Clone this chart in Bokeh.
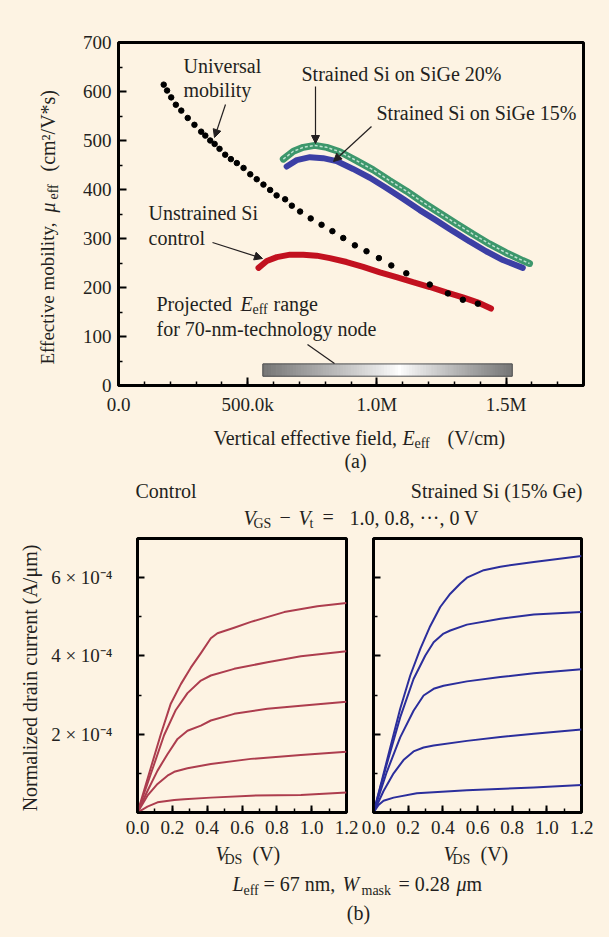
import math
from bokeh.plotting import figure
from bokeh.models import (Range1d, FixedTicker, Label, Arrow, NormalHead,
                          CustomJSTickFormatter)
from bokeh.layouts import column, row
from bokeh.embed import file_html
from bokeh.resources import INLINE

BG = "#fdf3e3"
INK = "#231f20"
FONT = "Liberation Serif"

# ---------------- data: panel (a) ----------------
univ_E = [175e3, 188e3, 204e3, 222e3, 243e3, 268e3, 294e3, 320e3, 336e3, 355e3,
          372e3, 391e3, 413e3, 435e3, 458e3, 484e3, 510e3, 535e3, 561e3, 587e3,
          612e3, 645e3, 671e3, 703e3, 744e3, 786e3, 828e3, 870e3, 915e3, 960e3,
          1008e3, 1056e3, 1114e3, 1205e3, 1275e3, 1333e3, 1391e3]
univ_mu = [614, 602, 588, 573, 561, 546, 532, 518, 510, 500,
           493, 483, 471, 462, 454, 444, 431, 421, 410, 399,
           388, 380, 367, 355, 341, 328, 315, 301, 286, 274,
           260, 245, 229, 206, 188, 175, 167]

sige20_E = [638e3, 677e3, 715e3, 760e3, 806e3, 857e3, 921e3, 986e3, 1050e3, 1114e3,
            1178e3, 1243e3, 1308e3, 1372e3, 1436e3, 1500e3, 1565e3, 1591e3]
sige20_mu = [462, 478, 486, 490, 486, 477, 459, 440, 418, 397,
             374, 352, 330, 309, 289, 271, 255, 249]

sige15_E = [651e3, 690e3, 741e3, 792e3, 844e3, 908e3, 973e3, 1037e3, 1101e3, 1166e3,
            1230e3, 1295e3, 1359e3, 1423e3, 1488e3, 1565e3]
sige15_mu = [447, 460, 466, 464, 458, 442, 424, 403, 381, 358,
             337, 315, 294, 274, 256, 240]

ctrl_E = [542e3, 574e3, 613e3, 664e3, 715e3, 767e3, 818e3, 883e3, 947e3, 1012e3,
          1076e3, 1140e3, 1205e3, 1269e3, 1333e3, 1398e3, 1442e3]
ctrl_mu = [240, 254, 262, 267, 267, 265, 260, 252, 242, 231,
           221, 211, 201, 190, 180, 168, 157]

proj_E_range = [559e3, 1524e3]      # projected E_eff range (70-nm node)
bar_mu = [19, 44]                   # vertical placement of the range bar

a_x_ticks = [0, 500e3, 1000e3, 1500e3]
a_x_labels = ["0.0", "500.0k", "1.0M", "1.5M"]
a_y_ticks = [0, 100, 200, 300, 400, 500, 600, 700]
a_y_labels = ["0", "100", "200", "300", "400", "500", "600", "700"]

# ---------------- data: panel (b) ----------------
# Control device, V_GS - V_t = 1.0, 0.8, 0.6, 0.4, 0.2 V (drain current in 1e-4 A/um)
ctrl_vds = [
    [0, 0.077, 0.134, 0.191, 0.249, 0.306, 0.364, 0.421, 0.459, 0.555, 0.651, 0.842, 1.033, 1.2],
    [0, 0.096, 0.153, 0.220, 0.287, 0.364, 0.421, 0.555, 0.746, 0.938, 1.2],
    [0, 0.057, 0.115, 0.172, 0.230, 0.287, 0.364, 0.421, 0.555, 0.746, 0.938, 1.2],
    [0, 0.057, 0.115, 0.172, 0.211, 0.287, 0.421, 0.651, 0.938, 1.2],
    [0, 0.057, 0.115, 0.211, 0.268, 0.421, 0.651, 0.938, 1.2],
]
ctrl_id_e4 = [
    [0, 1.15, 2.00, 2.78, 3.28, 3.70, 4.07, 4.45, 4.58, 4.72, 4.87, 5.12, 5.27, 5.35],
    [0, 1.24, 1.98, 2.62, 3.05, 3.37, 3.50, 3.67, 3.84, 3.99, 4.12],
    [0, 0.55, 1.07, 1.49, 1.88, 2.09, 2.22, 2.35, 2.52, 2.65, 2.73, 2.83],
    [0, 0.43, 0.73, 0.94, 1.04, 1.13, 1.24, 1.37, 1.47, 1.55],
    [0, 0.15, 0.26, 0.32, 0.34, 0.38, 0.43, 0.45, 0.51],
]
# Strained Si (15% Ge)
str_vds = [
    [0, 0.050, 0.100, 0.154, 0.212, 0.270, 0.327, 0.385, 0.443, 0.501, 0.539, 0.636, 0.732, 0.925, 1.2],
    [0, 0.077, 0.154, 0.231, 0.299, 0.347, 0.404, 0.443, 0.539, 0.732, 0.925, 1.2],
    [0, 0.077, 0.154, 0.231, 0.289, 0.347, 0.404, 0.539, 0.732, 0.925, 1.2],
    [0, 0.058, 0.116, 0.173, 0.231, 0.289, 0.347, 0.539, 0.732, 0.925, 1.2],
    [0, 0.029, 0.058, 0.116, 0.250, 0.539, 0.925, 1.2],
]
str_id_e4 = [
    [0, 0.85, 1.72, 2.65, 3.50, 4.18, 4.76, 5.25, 5.59, 5.85, 6.00, 6.19, 6.28, 6.40, 6.55],
    [0, 1.24, 2.43, 3.41, 4.01, 4.35, 4.57, 4.65, 4.80, 4.95, 5.06, 5.12],
    [0, 1.04, 1.92, 2.60, 2.99, 3.16, 3.24, 3.35, 3.46, 3.56, 3.66],
    [0, 0.55, 1.00, 1.34, 1.56, 1.66, 1.71, 1.83, 1.93, 2.01, 2.12],
    [0, 0.19, 0.30, 0.38, 0.49, 0.57, 0.64, 0.70],
]
b_x_ticks = [0.0, 0.2, 0.4, 0.6, 0.8, 1.0, 1.2]
b_x_labels = ["0.0", "0.2", "0.4", "0.6", "0.8", "1.0", "1.2"]
b_y_ticks = [2e-4, 4e-4, 6e-4]
b_y_labels = ["2 × 10⁻⁴", "4 × 10⁻⁴", "6 × 10⁻⁴"]


# ---------------- helpers ----------------
def fmt(tick_vals, tick_labels):
    return CustomJSTickFormatter(args=dict(tv=tick_vals, tl=tick_labels), code="""
        for (let k = 0; k < tv.length; k++) {
            if (Math.abs(tv[k] - tick) <= 1e-9 * Math.max(1, Math.abs(tv[k]))) return tl[k];
        }
        return "";
    """)


def style_axis(ax, size=19, tick_in=8, minor_in=4, standoff=7):
    ax.axis_line_color = "black"
    ax.axis_line_width = 2.5
    ax.major_tick_in = tick_in
    ax.major_tick_out = 0
    ax.minor_tick_in = minor_in
    ax.minor_tick_out = 0
    ax.major_tick_line_color = "black"
    ax.major_tick_line_width = 2
    ax.minor_tick_line_color = "black"
    ax.minor_tick_line_width = 1.5
    ax.major_label_text_font = FONT
    ax.major_label_text_font_size = f"{size}px"
    ax.major_label_text_color = INK
    ax.major_label_standoff = standoff


def put(fig, fx, fy, px, py, text, size=20, style="normal", angle=0.0, align="left"):
    fig.add_layout(Label(x=fx(px), y=fy(py), text=text, text_font=FONT,
                         text_font_size=f"{size}px", text_font_style=style,
                         text_color=INK, angle=angle, text_align=align,
                         text_baseline="middle"))


def arrow(fig, fx, fy, p0, p1, head=True):
    fig.add_layout(Arrow(x_start=fx(p0[0]), y_start=fy(p0[1]), x_end=fx(p1[0]), y_end=fy(p1[1]),
                         line_color=INK, line_width=1.2,
                         end=NormalHead(size=8, fill_color=INK, line_color=INK, line_width=1) if head else None))


def blank(w, h, left, right, top_b, bottom_b, xr, yr):
    f = figure(width=w, height=h, x_range=Range1d(*xr), y_range=Range1d(*yr),
               x_axis_type=None, y_axis_type=None, toolbar_location=None,
               output_backend="svg", min_border_left=left, min_border_right=right,
               min_border_top=top_b, min_border_bottom=bottom_b, outline_line_color=None,
               background_fill_color=BG, border_fill_color=BG)
    f.grid.visible = False
    return f


ident = lambda v: v
R = math.pi / 2

# ---------------- panel (a) ----------------
STRIP_W = 70
A_H = 420
A_L, A_R, A_T, A_B = 48, 26, 42, 35          # borders of the chart figure
A_W = 609 - STRIP_W
A_XMAX, A_YMAX = 1.8e6, 700
top = figure(width=A_W, height=A_H, x_range=Range1d(0, A_XMAX), y_range=Range1d(0, A_YMAX),
             toolbar_location=None, output_backend="svg",
             min_border_left=A_L, min_border_right=A_R, min_border_top=A_T, min_border_bottom=A_B,
             background_fill_color=BG, border_fill_color=BG,
             outline_line_color="black", outline_line_width=3)
top.grid.visible = False
top.xaxis.ticker = FixedTicker(ticks=a_x_ticks, minor_ticks=[i * 1e5 for i in range(19)])
top.xaxis.formatter = fmt(a_x_ticks, a_x_labels)
top.yaxis.ticker = FixedTicker(ticks=a_y_ticks, minor_ticks=[50 + 100 * i for i in range(7)])
top.yaxis.formatter = fmt(a_y_ticks, a_y_labels)
style_axis(top.xaxis[0], standoff=8)
style_axis(top.yaxis[0], standoff=7)

FX0 = STRIP_W + A_L                      # page x of frame left
afw = A_W - A_L - A_R
afh = A_H - A_T - A_B
ax_ = lambda px: (px - FX0) / afw * A_XMAX
ay_ = lambda py: (A_T + afh - py) / afh * A_YMAX

# gradient bar for projected range
n = 90
e0, e1 = proj_E_range
ec = e0 + 0.55 * (e1 - e0)
edges = [e0 + (e1 - e0) * i / n for i in range(n + 1)]
cols = []
for i in range(n):
    m = 0.5 * (edges[i] + edges[i + 1])
    t = (ec - m) / (ec - e0) if m < ec else (m - ec) / (e1 - ec)
    g = int(round(255 - (255 - 118) * t ** 0.9))
    cols.append("#%02x%02x%02x" % (g, g, g))
top.quad(left=edges[:-1], right=edges[1:], bottom=bar_mu[0], top=bar_mu[1],
         fill_color=cols, line_color=cols, line_width=1)
top.quad(left=[e0], right=[e1], bottom=[bar_mu[0]], top=[bar_mu[1]],
         fill_color=None, line_color="#555555", line_width=1)

top.line(sige20_E, sige20_mu, line_color="#3d976c", line_width=7, line_cap="round")
top.line(sige20_E, sige20_mu, line_color="#bfe2d0", line_width=1.5, line_dash="3 2")
top.line(sige15_E, sige15_mu, line_color="#3c3fa5", line_width=6, line_cap="round")
top.line(ctrl_E, ctrl_mu, line_color="#c2111f", line_width=6, line_cap="round")
top.scatter(univ_E, univ_mu, size=5.5, color="black")

put(top, ax_, ay_, 183, 65, "Universal")
put(top, ax_, ay_, 183, 89, "mobility")
arrow(top, ax_, ay_, (225, 104), (214, 137))
put(top, ax_, ay_, 301, 73, "Strained Si on SiGe 20%")
arrow(top, ax_, ay_, (315, 86), (315, 143))
put(top, ax_, ay_, 376, 112, "Strained Si on SiGe 15%")
arrow(top, ax_, ay_, (371, 126), (333, 161))
put(top, ax_, ay_, 148, 212, "Unstrained Si")
put(top, ax_, ay_, 148, 237, "control")
arrow(top, ax_, ay_, (212, 242), (262, 258))
put(top, ax_, ay_, 156, 303, "Projected")
put(top, ax_, ay_, 240, 303, "E", style="italic")
put(top, ax_, ay_, 252, 309, "eff", size=14)
put(top, ax_, ay_, 273, 303, "range")
put(top, ax_, ay_, 156, 328, "for 70-nm-technology node")
arrow(top, ax_, ay_, (307, 344), (334, 363), head=False)

# strip on the left carrying the rotated y title of (a); y data == page y
ystrip = blank(STRIP_W, A_H, 0, 0, A_T, A_B, (0, STRIP_W), (A_T + afh, A_T))
put(ystrip, ident, ident, 47, 364, "Effective mobility,", size=19, angle=R)
put(ystrip, ident, ident, 47, 212, "μ", size=20, style="italic", angle=R)
put(ystrip, ident, ident, 53, 199, "eff", size=14, angle=R)
put(ystrip, ident, ident, 47, 171, "(cm²/V*s)", size=20, angle=R)

# ---------------- middle strip (x title of (a), headings of (b)) ----------------
M_Y0, M_H = A_H, 114
BL, BR = 118, 26
mid = blank(609, M_H, BL, BR, 0, 0, (BL, 609 - BR), (M_H, 0))
my_ = lambda py: py - M_Y0
put(mid, ident, my_, 213, 437, "Vertical effective field,")
put(mid, ident, my_, 402, 437, "E", style="italic")
put(mid, ident, my_, 414, 443, "eff", size=14)
put(mid, ident, my_, 447, 437, "(V/cm)")
put(mid, ident, my_, 355, 460, "(a)", align="center")
put(mid, ident, my_, 135, 490, "Control")
put(mid, ident, my_, 582, 490, "Strained Si (15% Ge)", align="right")
put(mid, ident, my_, 243, 517, "V", style="italic")
put(mid, ident, my_, 253, 523, "GS", size=14)
put(mid, ident, my_, 279, 516, "−")
put(mid, ident, my_, 298, 517, "V", style="italic")
put(mid, ident, my_, 309, 523, "t", size=14)
put(mid, ident, my_, 322, 516, "=")
put(mid, ident, my_, 349, 517, "1.0, 0.8, ···, 0 V")

# ---------------- panels (b) ----------------
P_Y0 = M_Y0 + M_H          # 534
P_H = 310
P_T, P_B = 4, 32
B_YMAX = 7e-4


def panel(width, left, right, vds, ids, color, labels_on):
    p = figure(width=width, height=P_H, x_range=Range1d(0, 1.2), y_range=Range1d(0, B_YMAX),
               toolbar_location=None, output_backend="svg",
               min_border_left=left, min_border_right=right, min_border_top=P_T, min_border_bottom=P_B,
               background_fill_color=BG, border_fill_color=BG,
               outline_line_color="black", outline_line_width=3)
    p.grid.visible = False
    p.xaxis.ticker = FixedTicker(ticks=b_x_ticks, minor_ticks=[0.1 * i for i in range(13)])
    p.xaxis.formatter = fmt(b_x_ticks, b_x_labels)
    p.yaxis.ticker = FixedTicker(ticks=b_y_ticks, minor_ticks=[1e-4, 3e-4, 5e-4])
    p.yaxis.formatter = fmt(b_y_ticks, b_y_labels if labels_on else ["", "", ""])
    style_axis(p.xaxis[0], tick_in=7, minor_in=4, standoff=8)
    style_axis(p.yaxis[0], tick_in=7, minor_in=4, standoff=25)
    for v, i in zip(vds, ids):
        p.line(v, [x * 1e-4 for x in i], line_color=color, line_width=2, line_join="round")
    return p


pl = panel(360, 137, 14, ctrl_vds, ctrl_id_e4, "#ad3d4e", True)
pl.yaxis.axis_label = "Normalized drain current  (A/μm)"
pl.yaxis.axis_label_text_font = FONT
pl.yaxis.axis_label_text_font_size = "20px"
pl.yaxis.axis_label_text_font_style = "normal"
pl.yaxis.axis_label_text_color = INK
pl.yaxis.axis_label_standoff = 7
pr = panel(249, 13, 28, str_vds, str_id_e4, "#2b2e9c", False)

# ---------------- footer ----------------
F_Y0 = P_Y0 + P_H          # 844
F_H = 937 - F_Y0
footer = blank(609, F_H, BL, BR, 0, 0, (BL, 609 - BR), (F_H, 0))
fy_ = lambda py: py - F_Y0
put(footer, ident, fy_, 215, 853, "V", style="italic")
put(footer, ident, fy_, 224, 859, "DS", size=14)
put(footer, ident, fy_, 252, 853, "(V)")
put(footer, ident, fy_, 443, 853, "V", style="italic")
put(footer, ident, fy_, 452, 859, "DS", size=14)
put(footer, ident, fy_, 480, 853, "(V)")
put(footer, ident, fy_, 232, 883, "L", style="italic")
put(footer, ident, fy_, 243, 890, "eff", size=14)
put(footer, ident, fy_, 263, 883, "= 67 nm,")
put(footer, ident, fy_, 342, 883, "W", style="italic")
put(footer, ident, fy_, 361, 890, "mask", size=14)
put(footer, ident, fy_, 398, 883, "= 0.28")
put(footer, ident, fy_, 456, 883, "μ", style="italic")
put(footer, ident, fy_, 466, 883, "m")
put(footer, ident, fy_, 358, 912, "(b)", align="center")

bgstyle = {"background-color": BG}
layout = column(row(ystrip, top, spacing=0, styles=bgstyle), mid,
                row(pl, pr, spacing=0, styles=bgstyle), footer, spacing=0, styles=bgstyle)
open("out.html", "w").write(file_html(layout, INLINE))
